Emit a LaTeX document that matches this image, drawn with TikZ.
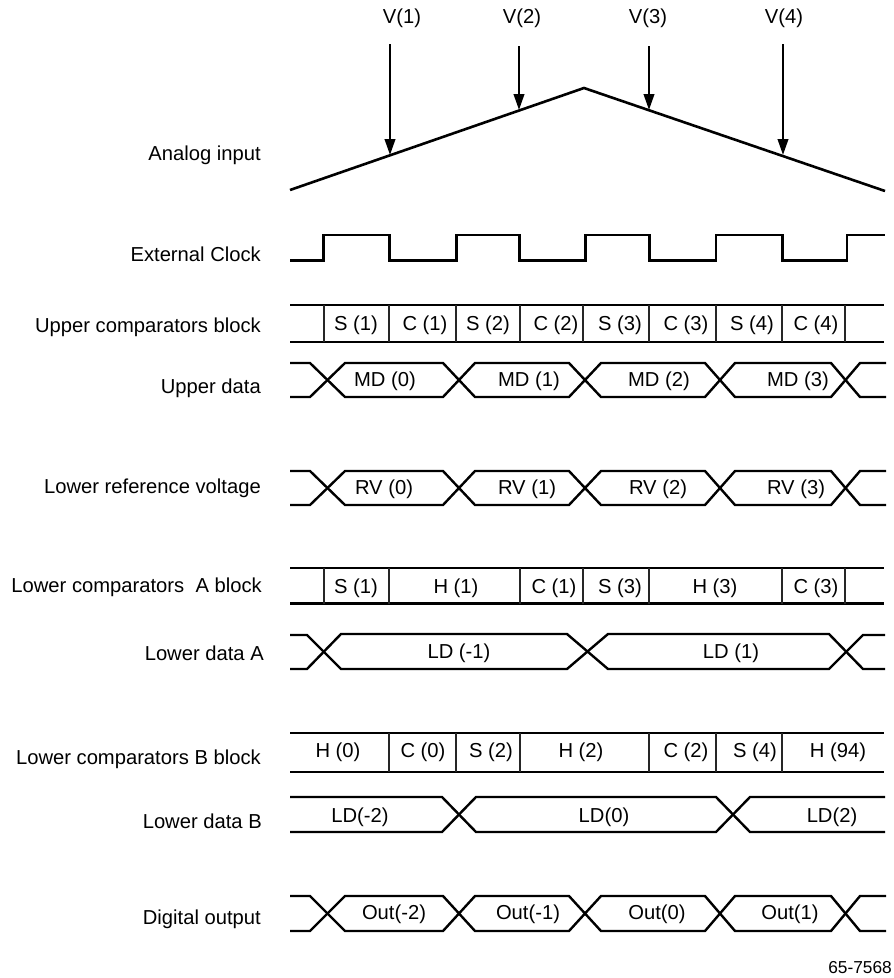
\documentclass[tikz,border=0pt]{standalone}
\usepackage{fontspec}
\setmainfont{Liberation Sans}
\usetikzlibrary{arrows.meta}
\tikzset{
  sig/.style={line width=2.4pt,black,line join=miter},
  sep/.style={line width=1.2pt,black!85},
  ramp/.style={line width=2.6pt,black},
  probe/.style={line width=2.4pt,black,-{Triangle[length=16pt,width=10.5pt]}},
  lab/.style={anchor=base east,inner sep=0pt,font=\fontsize{20.2}{24}\selectfont,text=black},
  txt/.style={anchor=base,inner sep=0pt,font=\fontsize{20.2}{24}\selectfont,text=black},
  tag/.style={anchor=base east,inner sep=0pt,font=\fontsize{17.3}{20}\selectfont,text=black}
}
\newcommand{\hexrow}[2]{%
  \draw[sig] (290,#1)--(310,#1)--(345,#2)--(443,#2)--(475,#1)--(569,#1)--(601,#2)--(705,#2)--(735,#1)--(831,#1)--(860,#2)--(886,#2);
  \draw[sig] (290,#2)--(310,#2)--(345,#1)--(443,#1)--(475,#2)--(569,#2)--(601,#1)--(705,#1)--(735,#2)--(831,#2)--(860,#1)--(886,#1);
}
\newcommand{\blockrow}[3]{%
  \draw[sig] (290,#1)--(884,#1);
  \draw[sig] (290,#2)--(884,#2);
  \foreach \sx in {#3} \draw[sep] (\sx,#1)--(\sx,#2);
}
\begin{document}
\begin{tikzpicture}[x=1pt,y=-1pt]
\useasboundingbox (0,0) rectangle (894,978);
% probes
\node[txt] (v1) at (402,23) {V(1)};
\node[txt] (v2) at (522,23) {V(2)};
\node[txt] (v3) at (648,23) {V(3)};
\node[txt] (v4) at (784,23) {V(4)};
\coordinate (a1s) at (390,44); \coordinate (a1e) at (390,155);
\coordinate (a2s) at (519,46);   \coordinate (a2e) at (519,110);
\coordinate (a3s) at (649,46);   \coordinate (a3e) at (649,110);
\coordinate (a4s) at (783,44);   \coordinate (a4e) at (783,155);
\draw[probe] (a1s) -- (a1e);
\draw[probe] (a2s) -- (a2e);
\draw[probe] (a3s) -- (a3e);
\draw[probe] (a4s) -- (a4e);
% analog ramp
\draw[ramp] (290,190)--(584,88)--(885,191);
% clock
\draw[sig] (290,260.5)--(323.5,260.5)--(323.5,235)--(389.5,235)--(389.5,260.5)--(456.5,260.5)--(456.5,235)--(519.5,235)--(519.5,260.5)--(585.5,260.5)--(585.5,235)--(649.5,235)--(649.5,260.5)--(716,260.5)--(716,235)--(782.5,235)--(782.5,260.5)--(847,260.5)--(847,235)--(885,235);
% rows
\blockrow{305}{342}{324,389,456,520,583,649,716,782,845}
\hexrow{363}{397}
\hexrow{471}{505}
\blockrow{568}{603.5}{324,389,520,583,649,782,845}
\draw[sig] (290,635)--(307,635)--(341,669)--(567,669)--(608,634)--(829,634)--(863,669)--(885,669);
\draw[sig] (290,669)--(307,669)--(341,634)--(567,634)--(608,669)--(829,669)--(863,635)--(885,635);
\blockrow{733}{772}{389,456,520,649,716,782}
\draw[sig] (290,797)--(442,797)--(476,832)--(716,832)--(750,797)--(885,797);
\draw[sig] (290,832)--(442,832)--(476,797)--(716,797)--(750,832)--(885,832);
\hexrow{896}{931}
% left labels
\node[lab] (l1) at (261,160) {Analog input};
\node[lab] (l2) at (261,261) {External Clock};
\node[lab] (l3) at (261,332) {Upper comparators block};
\node[lab] (l4) at (261,393) {Upper data};
\node[lab] (l5) at (261,493) {Lower reference voltage};
\node[lab] (l6) at (262,592) {Lower comparators\ \ A block};
\node[lab] (l7) at (264,660) {Lower data A};
\node[lab] (l8) at (261,764) {Lower comparators B block};
\node[lab] (l9) at (262,828) {Lower data B};
\node[lab] (l10) at (261,924) {Digital output};
% upper comparators
\node[txt] (uc1) at (356,330) {S (1)};
\node[txt] (uc2) at (425,330) {C (1)};
\node[txt] (uc3) at (488,330) {S (2)};
\node[txt] (uc4) at (556,330) {C (2)};
\node[txt] (uc5) at (620,330) {S (3)};
\node[txt] (uc6) at (686,330) {C (3)};
\node[txt] (uc7) at (752,330) {S (4)};
\node[txt] (uc8) at (816,330) {C (4)};
% upper data
\node[txt] (md0) at (385,386) {MD (0)};
\node[txt] (md1) at (529,386) {MD (1)};
\node[txt] (md2) at (659,386) {MD (2)};
\node[txt] (md3) at (798,386) {MD (3)};
% ref voltage
\node[txt] (rv0) at (384,494) {RV (0)};
\node[txt] (rv1) at (527,494) {RV (1)};
\node[txt] (rv2) at (658,494) {RV (2)};
\node[txt] (rv3) at (796,494) {RV (3)};
% lower A
\node[txt] (la1) at (356,593) {S (1)};
\node[txt] (la2) at (456,593) {H (1)};
\node[txt] (la3) at (554,593) {C (1)};
\node[txt] (la4) at (620,593) {S (3)};
\node[txt] (la5) at (715,593) {H (3)};
\node[txt] (la6) at (816,593) {C (3)};
\node[txt] (lda) at (459,658) {LD (-1)};
\node[txt] (ldb) at (731,658) {LD (1)};
% lower B
\node[txt] (lb1) at (338,757) {H (0)};
\node[txt] (lb2) at (423,757) {C (0)};
\node[txt] (lb3) at (491,757) {S (2)};
\node[txt] (lb4) at (581,757) {H (2)};
\node[txt] (lb5) at (686,757) {C (2)};
\node[txt] (lb6) at (755,757) {S (4)};
\node[txt] (lb7) at (838,757) {H (94)};
\node[txt] (ld0) at (360,822) {LD(-2)};
\node[txt] (ld1) at (604,822) {LD(0)};
\node[txt] (ld2) at (832,822) {LD(2)};
% output
\node[txt] (o0) at (394,919) {Out(-2)};
\node[txt] (o1) at (528,919) {Out(-1)};
\node[txt] (o2) at (657,919) {Out(0)};
\node[txt] (o3) at (790,919) {Out(1)};
\node[tag] (fig) at (892,973) {65-7568};
\end{tikzpicture}
\end{document}
